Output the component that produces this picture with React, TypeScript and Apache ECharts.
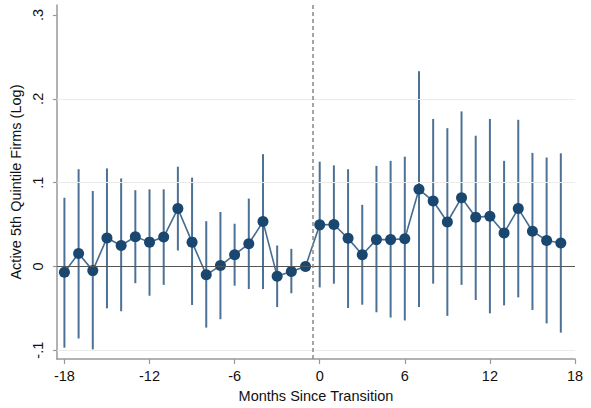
import React, { useEffect, useRef } from "react";
import * as echarts from "echarts";

const months = [-18, -17, -16, -15, -14, -13, -12, -11, -10, -9, -8, -7, -6, -5, -4, -3, -2, -1, 0, 1, 2, 3, 4, 5, 6, 7, 8, 9, 10, 11, 12, 13, 14, 15, 16, 17];
const coef = [-0.007, 0.0155, -0.005, 0.034, 0.025, 0.0355, 0.029, 0.035, 0.069, 0.029, -0.010, 0.001, 0.014, 0.027, 0.0535, -0.0116, -0.006, 0.0, 0.0496, 0.050, 0.0335, 0.014, 0.032, 0.032, 0.033, 0.092, 0.078, 0.053, 0.082, 0.0586, 0.060, 0.040, 0.069, 0.042, 0.031, 0.028];
const ciLow = [-0.097, -0.086, -0.099, -0.050, -0.0535, -0.020, -0.035, -0.022, 0.019, -0.046, -0.073, -0.063, -0.023, -0.027, -0.027, -0.0485, -0.032, null, -0.025, -0.0206, -0.0496, -0.0457, -0.0547, -0.061, -0.0645, -0.0485, -0.0206, -0.059, -0.022, -0.040, -0.056, -0.0465, -0.037, -0.052, -0.068, -0.079];
const ciHigh = [0.082, 0.116, 0.090, 0.117, 0.105, 0.091, 0.092, 0.092, 0.119, 0.106, 0.054, 0.065, 0.051, 0.081, 0.134, 0.025, 0.021, null, 0.125, 0.1206, 0.116, 0.0735, 0.120, 0.126, 0.131, 0.233, 0.176, 0.165, 0.185, 0.156, 0.176, 0.126, 0.175, 0.1355, 0.130, 0.135];
const xTicks = [-18, -12, -6, 0, 6, 12, 18];
const yTicks = [-0.1, 0, 0.1, 0.2, 0.3];
const yTickLabels = ["-.1", "0", ".1", ".2", ".3"];
const gridValues = [-0.1, 0.1, 0.2];
const transitionLine = -0.5;

const FONT = "'Liberation Sans', Arial, sans-serif";
const FS = 14.5;

export default function App() {
  const ref = useRef<HTMLDivElement>(null);
  useEffect(() => {
    if (!ref.current) return;
    const chart = echarts.init(ref.current, undefined, { renderer: "svg" });
    const ciData = months
      .map((m, i) => [m, ciLow[i], ciHigh[i]])
      .filter((d) => d[1] !== null && d[2] !== null);
    const option: any = {
      animation: false,
      backgroundColor: "#ffffff",
      textStyle: { fontFamily: FONT },
      grid: { left: 53, right: 16, top: 5, bottom: 44, containLabel: false },
      xAxis: {
        type: "value",
        min: -18.53,
        max: 18,
        name: "Months Since Transition",
        nameLocation: "middle",
        nameGap: 26,
        nameTextStyle: { color: "#111", fontSize: FS, fontFamily: FONT },
        axisLine: { show: true, onZero: false, lineStyle: { color: "#999999", width: 1.5 } },
        axisTick: { show: true, length: 5, lineStyle: { color: "#999999", width: 1.2 }, customValues: xTicks },
        axisLabel: { color: "#111", fontSize: FS, fontFamily: FONT, margin: 9, customValues: xTicks, formatter: (v: number) => String(v) },
        splitLine: { show: false },
      },
      yAxis: {
        type: "value",
        min: -0.1106,
        max: 0.312,
        name: "Active 5th Quintile Firms (Log)",
        nameLocation: "middle",
        nameGap: 29,
        nameRotate: 90,
        nameTextStyle: { color: "#111", fontSize: FS, fontFamily: FONT },
        axisLine: { show: true, onZero: false, lineStyle: { color: "#999999", width: 1.5 } },
        axisTick: { show: true, length: 4, lineStyle: { color: "#999999", width: 1.2 }, customValues: yTicks },
        axisLabel: {
          color: "#111",
          fontSize: FS,
          fontFamily: FONT,
          rotate: 90,
          margin: 11,
          customValues: yTicks,
          formatter: (v: number) => {
            const idx = yTicks.findIndex((t) => Math.abs(t - v) < 1e-6);
            return idx >= 0 ? yTickLabels[idx] : "";
          },
        },
        splitLine: { show: false },
      },
      series: [
        {
          type: "line",
          data: [],
          silent: true,
          markLine: {
            silent: true,
            symbol: "none",
            label: { show: false },
            data: [
              ...gridValues.map((v) => ({ yAxis: v, lineStyle: { color: "#eaeaea", width: 1.2, type: "solid" } })),
              { yAxis: 0, lineStyle: { color: "#555555", width: 1.2, type: "solid" } },
              { xAxis: transitionLine, lineStyle: { color: "#888888", width: 1.5, type: [4, 3] } },
            ],
          },
          z: 1,
        },
        {
          type: "custom",
          data: ciData,
          z: 2,
          renderItem: (params: any, api: any) => {
            const x = api.value(0);
            const p1 = api.coord([x, api.value(1)]);
            const p2 = api.coord([x, api.value(2)]);
            return {
              type: "line",
              shape: { x1: p1[0], y1: p1[1], x2: p2[0], y2: p2[1] },
              style: { stroke: "#4c7196", lineWidth: 2 },
            };
          },
        },
        {
          type: "line",
          data: months.map((m, i) => [m, coef[i]]),
          symbol: "circle",
          symbolSize: 11,
          itemStyle: { color: "#1a476f" },
          lineStyle: { color: "#466c92", width: 1.6 },
          z: 3,
        },
      ],
    };
    chart.setOption(option);
    return () => chart.dispose();
  }, []);
  return <div ref={ref} style={{ width: 591, height: 408, position: "absolute", left: 0, top: 0 }} />;
}
